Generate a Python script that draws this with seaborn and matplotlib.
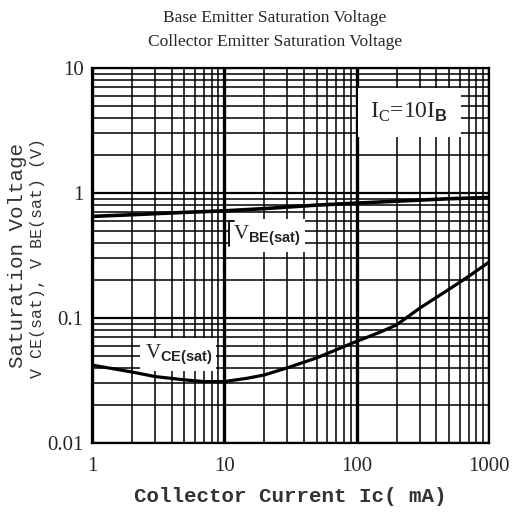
import matplotlib
matplotlib.use("Agg")
import matplotlib.pyplot as plt
from matplotlib.ticker import LogLocator, NullFormatter, FixedLocator, FixedFormatter
import seaborn as sns
import pandas as pd

# Collector current (mA) and saturation voltages (V), Ic = 10 Ib
ic_vbe = [1, 2, 5, 10, 20, 50, 100, 200, 500, 1000]
vbe_sat = [0.65, 0.67, 0.70, 0.72, 0.75, 0.80, 0.83, 0.86, 0.90, 0.92]

ic_vce = [1, 1.5, 2, 3, 5, 7, 10, 15, 20, 30, 50, 80, 100, 150, 200, 300, 500, 700, 1000]
vce_sat = [0.042, 0.039, 0.037, 0.034, 0.032, 0.031, 0.031, 0.033, 0.035, 0.040,
           0.048, 0.059, 0.065, 0.077, 0.088, 0.120, 0.170, 0.215, 0.28]

x_ticks = [1, 10, 100, 1000]
x_ticklabels = ["1", "10", "100", "1000"]
y_ticks = [0.01, 0.1, 1, 10]
y_ticklabels = ["0.01", "0.1", "1", "10"]

title_lines = ["Base Emitter Saturation Voltage", "Collector Emitter Saturation Voltage"]

sns.set_style("white")
plt.rcParams["font.family"] = ["Liberation Serif", "DejaVu Serif"]
plt.rcParams["mathtext.fontset"] = "custom"
plt.rcParams["mathtext.rm"] = "Liberation Serif"
plt.rcParams["mathtext.bf"] = "Liberation Sans:bold"

df_vbe = pd.DataFrame({"Ic": ic_vbe, "V": vbe_sat})
df_vce = pd.DataFrame({"Ic": ic_vce, "V": vce_sat})

fig = plt.figure(figsize=(5.16, 5.15), dpi=100)
ax = fig.add_axes([92 / 516, 1 - 443 / 515, 397 / 516, 375 / 515])
ax.set_xscale("log")
ax.set_yscale("log")
ax.set_xlim(1, 1000)
ax.set_ylim(0.01, 10)

# log-paper grid
ax.xaxis.set_minor_locator(LogLocator(base=10, subs=range(2, 10)))
ax.yaxis.set_minor_locator(LogLocator(base=10, subs=range(2, 10)))
ax.xaxis.set_minor_formatter(NullFormatter())
ax.yaxis.set_minor_formatter(NullFormatter())
ax.grid(which="minor", axis="both", color="black", lw=1.3, alpha=0.85)
ax.grid(which="major", axis="y", color="black", lw=1.6)
ax.grid(which="major", axis="x", color="black", lw=2.4)
ax.set_axisbelow(True)
for s in ax.spines.values():
    s.set_color("black")
    s.set_linewidth(1.6)

sns.lineplot(data=df_vbe, x="Ic", y="V", ax=ax, color="black", lw=2.6, zorder=5)
sns.lineplot(data=df_vce, x="Ic", y="V", ax=ax, color="black", lw=2.3, zorder=5)

ax.xaxis.set_major_locator(FixedLocator(x_ticks))
ax.xaxis.set_major_formatter(FixedFormatter(x_ticklabels))
ax.yaxis.set_major_locator(FixedLocator(y_ticks))
ax.yaxis.set_major_formatter(FixedFormatter(y_ticklabels))
ax.tick_params(which="both", length=0)
ax.tick_params(axis="x", pad=10, labelsize=15)
ax.tick_params(axis="y", pad=6, labelsize=15)

ax.set_xlabel("")
ax.set_ylabel("")

# titles
fig.text(275 / 516, 1 - 18 / 515, title_lines[0], ha="center", va="center", fontsize=12.5)
fig.text(275 / 516, 1 - 42 / 515, title_lines[1], ha="center", va="center", fontsize=12.5)

# axis labels
fig.text(290 / 516, 1 - 496 / 515, "Collector Current Ic( mA)", ha="center", va="center",
         fontsize=15, family=["Liberation Mono"], fontweight="bold", color="#333333")
fig.text(18 / 516, 1 - 255 / 515, "Saturation Voltage", ha="center", va="center",
         rotation=90, fontsize=15, family=["Liberation Mono"], color="#333333")
fig.text(38 / 516, 1 - 258 / 515, "V CE(sat), V BE(sat) (V)", ha="center", va="center",
         rotation=90, fontsize=12, family=["Liberation Mono"], color="#333333")

# annotations
ax.text(250, 4.4, r"I$_\mathrm{C}$=10I$_\mathbf{B}$", ha="center", va="center",
        fontsize=17, bbox=dict(facecolor="white", edgecolor="none", pad=9), zorder=6)
ax.text(21, 0.46, r"V$_\mathbf{BE(sat)}$", ha="center", va="center",
        fontsize=15, bbox=dict(facecolor="white", edgecolor="none", pad=3), zorder=6)
ax.text(4.5, 0.051, r"V$_\mathbf{CE(sat)}$", ha="center", va="center",
        fontsize=15, bbox=dict(facecolor="white", edgecolor="none", pad=3), zorder=6)
# leader bracket beside the VBE label
ax.plot([0.358, 0.345, 0.345], [0.592, 0.592, 0.525], transform=ax.transAxes,
        color="black", lw=1.3, zorder=7)

fig.savefig("out.png", dpi=100)
